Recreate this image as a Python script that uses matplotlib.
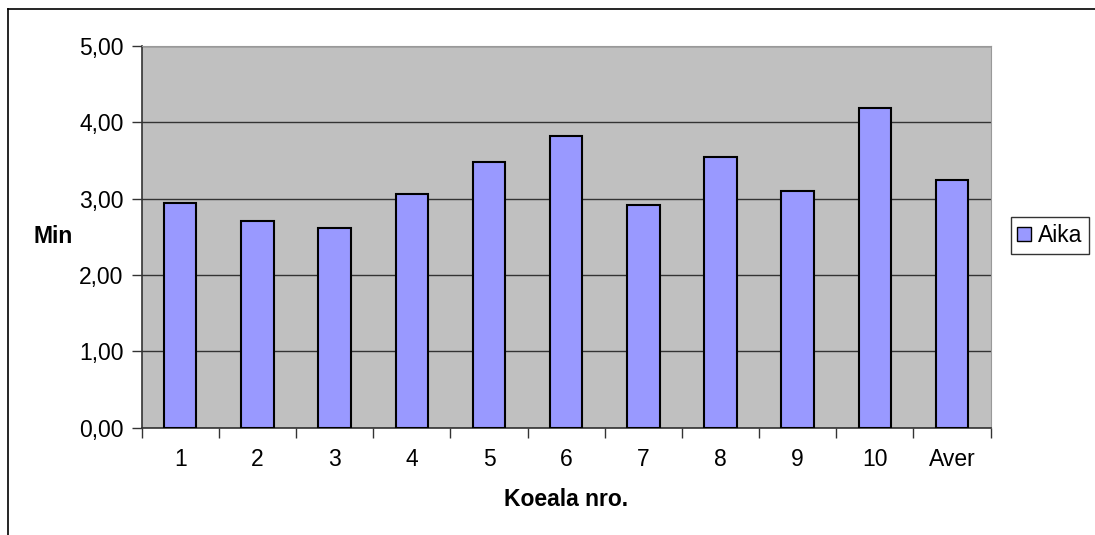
import numpy as np
import matplotlib.pyplot as plt
from matplotlib.lines import Line2D

plt.rcParams['font.family'] = ['Liberation Sans', 'DejaVu Sans']

labels = ['1', '2', '3', '4', '5', '6', '7', '8', '9', '10', 'Aver']
aika = [2.94, 2.71, 2.62, 3.06, 3.48, 3.82, 2.92, 3.54, 3.10, 4.19, 3.24]

fs = 16.5

fig = plt.figure(figsize=(10.95, 5.35), dpi=100)
ax = fig.add_axes([0.1294, 0.2009, 0.7753, 0.7131])
ax.set_facecolor('#C0C0C0')

x = np.arange(len(labels))
ax.bar(x, aika, width=0.42, color='#9999FF', edgecolor='black', linewidth=1.5,
       label='Aika', zorder=3)

ax.set_xlim(-0.5, len(labels) - 0.5)
ax.set_ylim(0, 5)
ax.set_yticks(np.arange(0, 5.01, 1))
ax.yaxis.set_major_formatter(plt.FuncFormatter(lambda v, p: ('%.2f' % v).replace('.', ',')))
ax.grid(axis='y', color='#333333', linewidth=1, zorder=1)

# category labels between boundary ticks
ax.set_xticks(np.arange(-0.5, len(labels), 1))
ax.set_xticklabels([])
ax.set_xticks(x, minor=True)
ax.set_xticklabels(labels, minor=True)
ax.tick_params(axis='x', which='minor', length=0, pad=15, labelsize=fs)
ax.tick_params(axis='x', which='major', direction='out', length=7, width=1, color='#333333')
ax.tick_params(axis='y', direction='out', length=7, width=1, color='#333333', labelsize=fs, pad=6)

for s in ['top', 'right']:
    ax.spines[s].set_color('#999999')
for s in ['left', 'bottom']:
    ax.spines[s].set_color('#333333')
    ax.spines[s].set_linewidth(1.2)

ax.set_xlabel('Koeala nro.', fontsize=fs, fontweight='bold', labelpad=12)
ax.set_ylabel('Min', fontsize=fs, fontweight='bold', rotation=0, va='center', ha='center')
ax.yaxis.set_label_coords(-0.1045, 0.5)

leg = ax.legend(loc='center left', bbox_to_anchor=(1.0235, 0.503), fontsize=fs,
                frameon=True, fancybox=False, edgecolor='black', handlelength=0.6,
                handleheight=0.6, handletextpad=0.3, borderpad=0.3, borderaxespad=0)
leg.get_frame().set_linewidth(1)
for h in leg.legend_handles:
    h.set_linewidth(1)

# chart frame (left and top edges)
fig.add_artist(Line2D([8 / 1095, 8 / 1095], [0, 1 - 9 / 535], color='black', lw=1.2))
fig.add_artist(Line2D([8 / 1095, 1], [1 - 9 / 535, 1 - 9 / 535], color='black', lw=1.2))

fig.savefig('out.png', dpi=100)
